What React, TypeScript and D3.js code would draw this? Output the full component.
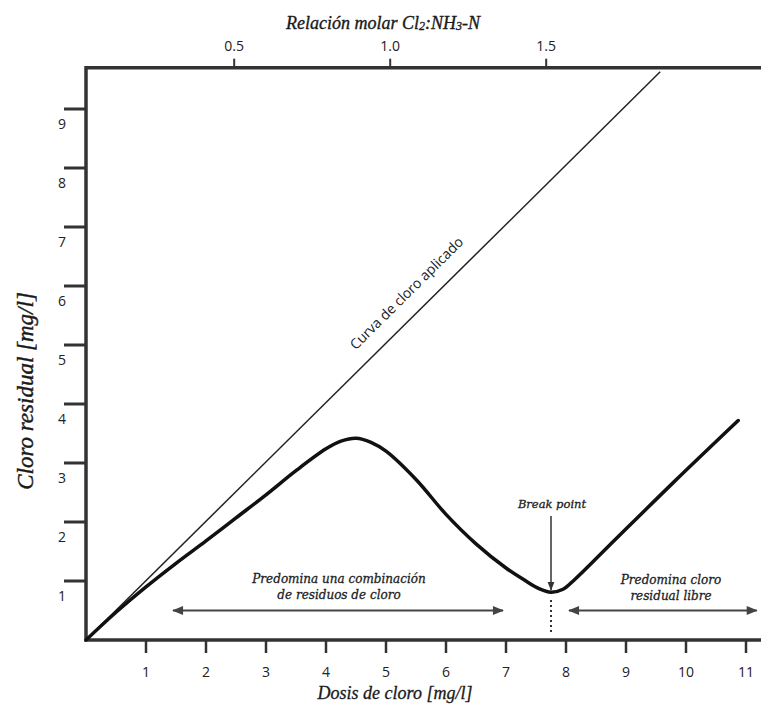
import React, { useEffect, useRef } from "react";
import * as d3 from "d3";

// breakpoint chlorination curve
const doseX = [0, 0.5, 1, 1.5, 2, 2.5, 3, 3.5, 4, 4.25, 4.5, 4.75, 5, 5.5, 6, 6.5, 7, 7.3, 7.55, 7.75, 7.95, 8.15, 8.7, 9.8, 10.87];
const residualY = [0, 0.47, 0.9, 1.3, 1.68, 2.07, 2.46, 2.87, 3.24, 3.37, 3.42, 3.35, 3.2, 2.72, 2.13, 1.63, 1.22, 1.02, 0.87, 0.81, 0.86, 1.03, 1.58, 2.68, 3.72];

// applied chlorine (y = x) line end points
const appliedX = [0, 9.57];
const appliedY = [0, 9.63];

const xTicks = [1, 2, 3, 4, 5, 6, 7, 8, 9, 10, 11];
const yTicks = [1, 2, 3, 4, 5, 6, 7, 8, 9];
const molarTicks = [0.5, 1.0, 1.5];
// molar ratio -> dose, two anchor points
const molarRatio = [0.5, 1.5];
const molarDose = [2.47, 7.67];

const width = 761,
  height = 704;

export default function App() {
  const ref = useRef<SVGSVGElement>(null);

  useEffect(() => {
    const svg = d3.select(ref.current);
    svg.selectAll("*").remove();

    const x = d3.scaleLinear().domain([0, 11.25]).range([86, 761]);
    const y = d3.scaleLinear().domain([0, 9.7]).range([640, 640 - 9.7 * 59]);
    const top = d3
      .scaleLinear()
      .domain(molarRatio)
      .range(molarDose.map((d) => x(d)));

    const axisColor = "#333";
    const tickFont = "'Open Sans', sans-serif";
    const serif = "'Liberation Serif', 'Times New Roman', serif";
    const slab = "'DejaVu Serif', serif";

    const defs = svg.append("defs");
    defs
      .append("marker")
      .attr("id", "head")
      .attr("markerUnits", "userSpaceOnUse")
      .attr("viewBox", "0 -6 12 12")
      .attr("refX", 11)
      .attr("refY", 0)
      .attr("markerWidth", 13)
      .attr("markerHeight", 11)
      .attr("orient", "auto-start-reverse")
      .append("path")
      .attr("d", "M0,-5L12,0L0,5Z")
      .attr("fill", "#444");
    defs
      .append("marker")
      .attr("id", "small")
      .attr("markerUnits", "userSpaceOnUse")
      .attr("viewBox", "0 -4 9 8")
      .attr("refX", 8.5)
      .attr("refY", 0)
      .attr("markerWidth", 9)
      .attr("markerHeight", 8)
      .attr("orient", "auto")
      .append("path")
      .attr("d", "M0,-3.5L9,0L0,3.5Z")
      .attr("fill", "#333");

    // frame: top, left, bottom (no right side)
    svg
      .append("path")
      .attr("d", `M${width},${y(9.7)}H${x(0)}V${y(0)}H${width}`)
      .attr("fill", "none")
      .attr("stroke", axisColor)
      .attr("stroke-width", 3.5);

    // left ticks, labels sit below each tick
    yTicks.forEach((v) => {
      svg.append("line")
        .attr("x1", 64).attr("x2", x(0))
        .attr("y1", y(v)).attr("y2", y(v))
        .attr("stroke", axisColor).attr("stroke-width", 3);
      svg.append("text")
        .attr("x", 62).attr("y", y(v) + 14)
        .attr("text-anchor", "middle")
        .attr("dominant-baseline", "central")
        .style("font", `14px ${tickFont}`)
        .attr("fill", "#222")
        .text(v);
    });

    // bottom ticks
    xTicks.forEach((v) => {
      svg.append("line")
        .attr("x1", x(v)).attr("x2", x(v))
        .attr("y1", y(0)).attr("y2", y(0) + 13)
        .attr("stroke", axisColor).attr("stroke-width", 2.5);
      svg.append("text")
        .attr("x", x(v)).attr("y", 671)
        .attr("text-anchor", "middle")
        .attr("dominant-baseline", "central")
        .style("font", `14px ${tickFont}`)
        .attr("fill", "#222")
        .text(v);
    });

    // top molar ratio ticks
    molarTicks.forEach((v) => {
      svg.append("line")
        .attr("x1", top(v)).attr("x2", top(v))
        .attr("y1", y(9.7) - 9).attr("y2", y(9.7))
        .attr("stroke", axisColor).attr("stroke-width", 2);
      svg.append("text")
        .attr("x", top(v)).attr("y", 45)
        .attr("text-anchor", "middle")
        .attr("dominant-baseline", "central")
        .style("font", `14px ${tickFont}`)
        .attr("fill", "#222")
        .text(d3.format(".1f")(v));
    });

    // axis titles (thin stroke to get the heavier look of the original)
    const topTitle = svg.append("text")
      .attr("x", 383).attr("y", 29)
      .attr("text-anchor", "middle")
      .style("font", `italic 18px ${serif}`)
      .attr("fill", "#1a1a1a")
      .attr("stroke", "#1a1a1a").attr("stroke-width", 0.35);
    topTitle.append("tspan").text("Relación molar Cl");
    topTitle.append("tspan").attr("font-size", 12).attr("dy", 1).text("2");
    topTitle.append("tspan").attr("dy", -1).text(":NH");
    topTitle.append("tspan").attr("font-size", 12).attr("dy", 1).text("3");
    topTitle.append("tspan").attr("dy", -1).text("-N");

    svg.append("text")
      .attr("x", 395).attr("y", 699)
      .attr("text-anchor", "middle")
      .style("font", `italic 18px ${serif}`)
      .attr("fill", "#1a1a1a")
      .attr("stroke", "#1a1a1a").attr("stroke-width", 0.3)
      .text("Dosis de cloro [mg/l]");

    svg.append("text")
      .attr("transform", "translate(33,391)rotate(-90)")
      .attr("text-anchor", "middle")
      .style("font", `italic 23px ${serif}`)
      .attr("fill", "#1a1a1a")
      .attr("stroke", "#1a1a1a").attr("stroke-width", 0.4)
      .text("Cloro residual [mg/l]");

    // applied chlorine line
    const applied = d3.zip(appliedX, appliedY) as [number, number][];
    svg.append("path")
      .datum(applied)
      .attr("fill", "none")
      .attr("stroke", "#222")
      .attr("stroke-width", 1.5)
      .attr("d", d3.line<[number, number]>()
        .x((d) => x(d[0]))
        .y((d) => y(d[1])));

    // label along the applied line, centred ~22px above it
    const x0 = x(appliedX[0]), y0 = y(appliedY[0]);
    const x1 = x(appliedX[1]), y1 = y(appliedY[1]);
    const len = Math.hypot(x1 - x0, y1 - y0);
    const ux = (x1 - x0) / len, uy = (y1 - y0) / len;
    const angle = (Math.atan2(uy, ux) * 180) / Math.PI;
    const t = (x(5.59) - x0) / (x1 - x0);
    const cx = x0 + t * (x1 - x0) + uy * 21.7;
    const cy = y0 + t * (y1 - y0) - ux * 21.7;
    svg.append("text")
      .attr("transform", `translate(${cx},${cy})rotate(${angle})`)
      .attr("text-anchor", "middle")
      .attr("dominant-baseline", "central")
      .style("font", `14px ${tickFont}`)
      .attr("fill", "#222")
      .text("Curva de cloro aplicado");

    // residual chlorine curve
    const curve = d3.zip(doseX, residualY) as [number, number][];
    svg.append("path")
      .datum(curve)
      .attr("fill", "none")
      .attr("stroke", "#111")
      .attr("stroke-width", 3.5)
      .attr("stroke-linecap", "round")
      .attr("d", d3.line<[number, number]>()
        .curve(d3.curveCatmullRom.alpha(0.5))
        .x((d) => x(d[0]))
        .y((d) => y(d[1])));

    // double arrows for the two zones
    const arrowY = y(0.5);
    [[1.45, 6.95], [8.05, 11.18]].forEach(([a, b]) => {
      svg.append("line")
        .attr("x1", x(a)).attr("x2", x(b))
        .attr("y1", arrowY).attr("y2", arrowY)
        .attr("stroke", "#444").attr("stroke-width", 2)
        .attr("marker-start", "url(#head)")
        .attr("marker-end", "url(#head)");
    });

    const note = (lines: string[], cxv: number, top0: number) => {
      lines.forEach((s, i) => {
        svg.append("text")
          .attr("x", cxv).attr("y", top0 + i * 16)
          .attr("text-anchor", "middle")
          .style("font", `italic 12px ${slab}`)
          .attr("fill", "#222")
          .attr("stroke", "#222").attr("stroke-width", 0.3)
          .text(s);
      });
    };
    note(["Predomina una combinación", "de residuos de cloro"], 339, 583);
    note(["Predomina cloro", "residual libre"], 671, 584);

    // break point
    const bx = x(7.75);
    svg.append("text")
      .attr("x", bx + 1).attr("y", 508)
      .attr("text-anchor", "middle")
      .style("font", `italic 11.5px ${slab}`)
      .attr("fill", "#222")
      .attr("stroke", "#222").attr("stroke-width", 0.3)
      .text("Break point");
    svg.append("line")
      .attr("x1", bx).attr("x2", bx)
      .attr("y1", 516).attr("y2", y(0.81) - 2)
      .attr("stroke", "#333").attr("stroke-width", 1.5)
      .attr("marker-end", "url(#small)");
    svg.append("line")
      .attr("x1", bx).attr("x2", bx)
      .attr("y1", 600).attr("y2", 633)
      .attr("stroke", "#333").attr("stroke-width", 2)
      .attr("stroke-dasharray", "2,3");
  }, []);

  return (
    <div style={{ position: "absolute", left: 0, top: 0, background: "#fff" }}>
      <svg ref={ref} width={width} height={height} style={{ display: "block" }} />
    </div>
  );
}
